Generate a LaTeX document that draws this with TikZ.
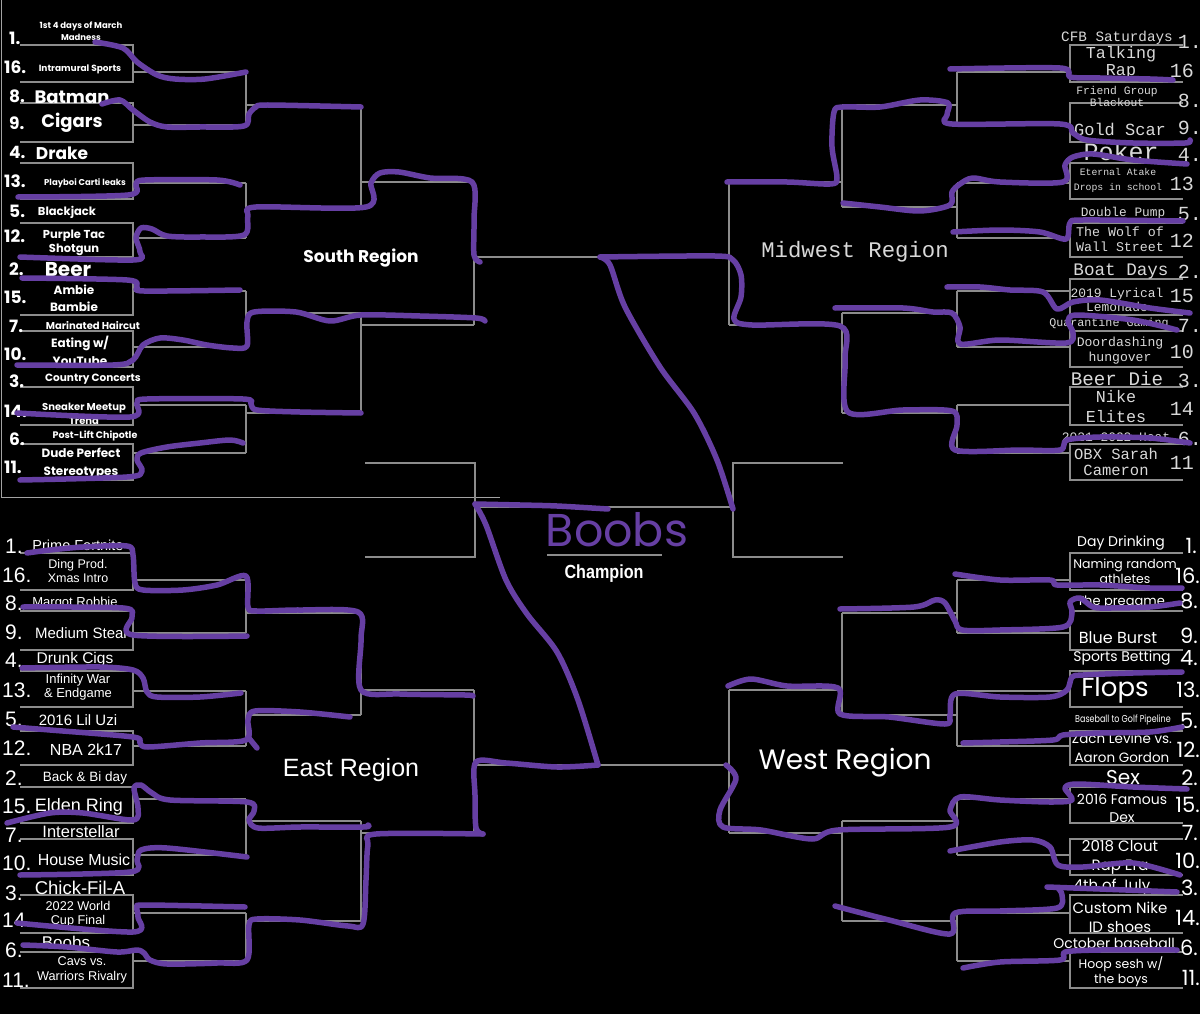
\documentclass[tikz,border=0pt]{standalone}
\usepackage{fontspec}
\usepackage{graphicx}
\newfontfamily\southfont{Poppins}
\newfontfamily\midfont{Liberation Mono}
\newfontfamily\eastfont{Liberation Sans}
\newfontfamily\westfont{Poppins}
\definecolor{penpurple}{HTML}{663FA3}
\definecolor{brkgray}{HTML}{8C8C8C}
\definecolor{midtext}{HTML}{D9D9D9}
\newcommand\fz[2]{\fontsize{#1}{#2}\selectfont}

\begin{document}
\begin{tikzpicture}[
  x=1pt, y=-1pt,
  brk/.style={draw=brkgray, line width=1.3pt},
  pen/.style={draw=penpurple, line width=5.5pt, line cap=round, line join=round},
  stxt/.style 2 args={font=\southfont\bfseries\fz{#1}{#2}, text=white, inner sep=0pt, align=center},
  mtxt/.style 2 args={font=\midfont\fz{#1}{#2}, text=midtext, inner sep=0pt, align=center},
  etxt/.style 2 args={font=\eastfont\fz{#1}{#2}, text=white, inner sep=0pt, align=center},
  wtxt/.style 2 args={font=\westfont\fz{#1}{#2}, text=white, inner sep=0pt, align=center},
  snum/.style={stxt={17}{17}, anchor=base west},
  enum/.style={etxt={21}{21}, anchor=base west},
  mnum/.style={mtxt={20}{20}, anchor=base east},
  wnum/.style={wtxt={21}{21}, anchor=base east}
]
\useasboundingbox (0,0) rectangle (1200,1014);
\fill[black] (0,0) rectangle (1200,1014);
\draw[brkgray!80, line width=1pt] (1,0) -- (1,497) -- (500,497);

% bracket lines, four regions (right side mirrored)
\foreach \sx/\ox/\dy in {1/0/0, -1/1203/0, 1/0/508, -1/1203/508} {
  \begin{scope}[shift={(\ox,\dy)}, xscale=\sx]
    \foreach \t/\b/\r in {45/82/72, 103/142/125, 163/199/183, 223/257/238,
                          279/315/291, 331/367/347, 387/425/405, 444/480/453}
      \draw[brk] (20,\t) -- (133,\t) -- (133,\b) -- (20,\b) (133,\r) -- (246,\r);
    \foreach \a/\b/\r in {72/125/105, 183/238/207, 291/347/313, 405/453/413}
      \draw[brk] (246,\a) -- (246,\b) (246,\r) -- (361,\r);
    \foreach \a/\b/\r in {105/207/182, 313/413/325}
      \draw[brk] (361,\a) -- (361,\b) (361,\r) -- (474,\r);
    \draw[brk] (474,182) -- (474,325) (474,257) -- (601.5,257);
  \end{scope}
}
% final four and title game
\draw[brk] (365,463) -- (475,463) -- (475,557) -- (365,557);
\draw[brk] (843,463) -- (733,463) -- (733,557) -- (843,557);
\draw[brk] (475,507) -- (733,507);
\draw[brk] (547,555) -- (662,555);

% South
\foreach \n/\x/\y [count=\i] in {1./9/45, 16./4/74, 8./9/103, 9./9/130, 4./9/159, 13./4/188,
    5./9/218, 12./4/242, 2./9/275, 15./4/303, 7./9/332, 10./4/360, 3./9/387, 14./4/417,
    6./9/445, 11./4/473}
  \node[snum] (snum\i) at (\x,\y) {\n};
\node[stxt={8.5}{12}] (s1) at (81,31) {1st 4 days of March\\Madness};
\node[stxt={9}{10}] (s16) at (80,69) {Intramural Sports};
\node[stxt={18}{18}] (s8) at (72,97) {Batman};
\node[stxt={18}{18}] (s9) at (72,123) {Cigars};
\node[stxt={17}{17}] (s4) at (62,153) {Drake};
\node[stxt={8.5}{10}] (s13) at (85,183) {Playboi Carti leaks};
\node[stxt={11.5}{12}] (s5) at (67,212) {Blackjack};
\node[stxt={11.5}{14}] (s12) at (74,243) {Purple Tac\\Shotgun};
\node[stxt={20}{20}] (s2) at (68,270) {Beer};
\node[stxt={12}{17}] (s15) at (74,298) {Ambie\\Bambie};
\node[stxt={10}{11}] (s7) at (93,326) {Marinated Haircut};
\node[stxt={12}{18}] (s10) at (80,351) {Eating w/\\YouTube};
\node[stxt={10.5}{11}] (s3) at (93,379) {Country Concerts};
\node[stxt={10}{14}] (s14) at (84,414) {Sneaker Meetup\\Trend};
\node[stxt={9.5}{10}] (s6) at (95,436) {Post-Lift Chipotle};
\node[stxt={12}{18}] (s11) at (81,463) {Dude Perfect\\Stereotypes};
\node[stxt={17}{17}] (south) at (361,258) {South Region};

% Midwest
\foreach \n/\x/\y [count=\i] in {1./1202/49, 16/1194/78, 8./1202/108, 9./1202/135, 4./1202/162,
    13/1194/190, 5./1202/220, 12/1194/247, 2./1202/278, 15/1194/302, 7./1202/332, 10/1194/358,
    3./1202/387, 14/1194/415, 6./1202/445, 11/1194/469}
  \node[mnum] (mnum\i) at (\x,\y) {\n};
\node[mtxt={14.3}{15}] (m1) at (1117,38) {CFB Saturdays};
\node[mtxt={16.7}{17}] (m16) at (1121,63) {Talking\\Rap};
\node[mtxt={11.3}{12}] (m8) at (1117,96) {Friend Group\\Blackout};
\node[mtxt={17}{17}] (m9) at (1120,129) {Gold Scar};
\node[mtxt={25}{25}] (m4) at (1121,152) {Poker};
\node[mtxt={9.8}{15}] (m13) at (1118,180) {Eternal Atake\\Drops in school};
\node[mtxt={12.8}{13}] (m5) at (1123,213) {Double Pump};
\node[mtxt={13.3}{15}] (m12) at (1120,239) {The Wolf of\\Wall Street};
\node[mtxt={17.6}{18}] (m2) at (1121,271) {Boat Days};
\node[mtxt={12.9}{14}] (m15) at (1117,300) {2019 Lyrical\\Lemonade};
\node[mtxt={11.7}{12}] (m7) at (1109,323) {Quarantine Gaming};
\node[mtxt={13.1}{15}] (m10) at (1120,351) {Doordashing\\hungover};
\node[mtxt={19.2}{19}] (m3) at (1117,379) {Beer Die};
\node[mtxt={16.7}{20}] (m14) at (1116,407) {Nike\\Elites};
\node[mtxt={12.9}{13}] (m6) at (1116,437) {2021-2022 Heat};
\node[mtxt={15.5}{16}] (m11) at (1116,462) {OBX Sarah\\Cameron};
\node[mtxt={22.3}{22}] (midwest) at (855,252) {Midwest Region};

% East
\foreach \n/\x/\y [count=\i] in {1./5/553, 16./2/582, 8./5/610, 9./5/639, 4./5/667, 13./2/697,
    5./5/726, 12./2/755, 2./5/785, 15./2/813, 7./5/842, 10./2/870, 3./5/900, 14./2/927,
    6./5/957, 11./2/987}
  \node[enum] (enum\i) at (\x,\y) {\n};
\node[etxt={14.5}{15}] (e1) at (78,545) {Prime Fortnite};
\node[etxt={12.5}{14.5}] (e16) at (78,571) {Ding Prod.\\Xmas Intro};
\node[etxt={13}{13}] (e8) at (75,603) {Margot Robbie};
\node[etxt={15}{15}] (e9) at (81,633) {Medium Steal};
\node[etxt={15.5}{16}] (e4) at (75,659) {Drunk Cigs};
\node[etxt={13}{14}] (e13) at (78,687) {Infinity War\\\& Endgame};
\node[etxt={15}{15}] (e5) at (78,720) {2016 Lil Uzi};
\node[etxt={16}{16}] (e12) at (86,750) {NBA 2k17};
\node[etxt={13.5}{14}] (e2) at (85,778) {Back \& Bi day};
\node[etxt={18}{18}] (e15) at (79,807) {Elden Ring};
\node[etxt={16.5}{17}] (e7) at (81,832) {Interstellar};
\node[etxt={16}{16}] (e10) at (84,860) {House Music};
\node[etxt={18.5}{19}] (e3) at (80,888) {Chick-Fil-A};
\node[etxt={12.7}{14}] (e14) at (78,914) {2022 World\\Cup Final};
\node[etxt={17}{17}] (e6) at (66,942) {Boobs};
\node[etxt={12.7}{15}] (e11) at (82,970) {Cavs vs.\\Warriors Rivalry};
\node[etxt={25}{25}] (east) at (351,770) {East Region};

% West
\foreach \n/\x/\y [count=\i] in {1./1197/553, 16./1200/583, 8./1198/608, 9./1198/643, 4./1198/665,
    13./1200/697, 5./1198/728, 12./1200/757, 2./1198/785, 15./1200/812, 7./1198/840, 10./1200/868,
    3./1198/895, 14./1200/925, 6./1198/955, 11./1200/985}
  \node[wnum] (wnum\i) at (\x,\y) {\n};
\node[wtxt={14}{14}] (w1) at (1121,543) {Day Drinking};
\node[wtxt={12.5}{15}] (w16) at (1125,571) {Naming random\\athletes};
\node[wtxt={13}{13}] (w8) at (1121,602) {The pregame};
\node[wtxt={16}{16}] (w9) at (1118,638) {Blue Burst};
\node[wtxt={14}{14}] (w4) at (1122,658) {Sports Betting};
\node[wtxt={26}{26}] (w13) at (1115,690) {Flops};
\node[wtxt={10}{10}] (w5) at (1123,720) {\scalebox{0.8}[1]{Baseball to Golf Pipeline}};
\node[wtxt={13.5}{19}] (w12) at (1122,748) {Zach Levine vs.\\Aaron Gordon};
\node[wtxt={20}{20}] (w2) at (1123,778) {Sex};
\node[wtxt={14}{18}] (w15) at (1122,808) {2016 Famous\\Dex};
\node[wtxt={15}{19}] (w10) at (1120,857) {2018 Clout\\Rap Era};
\node[wtxt={15}{15}] (w3) at (1112,887) {4th of July};
\node[wtxt={15}{19}] (w14) at (1120,917) {Custom Nike\\ID shoes};
\node[wtxt={14}{14}] (w6) at (1114,943) {October baseball};
\node[wtxt={12.5}{15}] (w11) at (1121,972) {Hoop sesh w/\\the boys};
\node[wtxt={28}{28}] (west) at (845,763) {West Region};

% champion
\node[etxt={19}{19}, font=\eastfont\bfseries\fz{19}{19}] (champ) at (604,574) {\scalebox{0.85}[1]{Champion}};

% purple picks, South
\draw[pen] plot[smooth, tension=.5] coordinates {(95,42) (123,48) (137,62) (157,75) (175,79) (205,79) (246,72)};
\draw[pen] plot[smooth, tension=.5] coordinates {(102,104) (120,100) (133,110) (150,122) (167,127) (200,127) (244,126) (249,114) (256,107) (268,105) (361,107)};
\draw[pen] plot[smooth, tension=.5] coordinates {(18,197) (128,195) (136,184) (145,180) (217,180) (240,185)};
\draw[pen] plot[smooth, tension=.5] coordinates {(20,257) (133,260) (140,252) (136,238) (141,228) (152,229) (167,236) (200,237) (244,235) (248,216) (256,207) (366,207) (371,183) (380,173) (399,172) (430,178) (472,182) (474,220) (474,255) (480,262)};
\draw[pen] plot[smooth, tension=.5] coordinates {(22,278) (127,280) (137,287) (144,291) (240,290)};
\draw[pen] plot[smooth, tension=.5] coordinates {(17,365) (113,365) (133,360) (143,345) (160,338) (183,340) (207,345) (233,348) (247,346) (247,322) (254,312) (296,312) (330,321) (361,315) (420,316) (476,318) (485,321)};
\draw[pen] plot[smooth, tension=.5] coordinates {(17,413) (130,417) (137,403) (147,399) (243,399) (251,404) (257,410) (300,412) (361,413)};
\draw[pen] plot[smooth, tension=.5] coordinates {(20,480) (127,477) (142,471) (137,460) (141,453) (167,447) (200,443) (230,440) (243,443)};

% purple picks, Midwest
\draw[pen] plot[smooth, tension=.5] coordinates {(950,69) (1060,68) (1070,77) (1100,78) (1150,79) (1173,80)};
\draw[pen] plot[smooth, tension=.5] coordinates {(1190,140) (1185,143) (1133,143) (1087,140) (1073,133) (1060,124) (952,124) (947,115) (948,103) (920,100) (880,107) (843,107) (834,112) (832,147) (837,178) (830,184) (787,182) (727,182)};
\draw[pen] plot[smooth, tension=.5] coordinates {(1187,164) (1133,160) (1093,154) (1073,157) (1065,165) (1063,182) (1000,182) (973,178) (960,184) (952,192) (950,205) (920,211) (880,207) (843,203)};
\draw[pen] plot[smooth, tension=.5] coordinates {(953,232) (1000,230) (1040,232) (1066,239) (1070,223) (1083,220) (1183,221)};
\draw[pen] plot[smooth, tension=.5] coordinates {(947,287) (980,287) (1010,290) (1043,292) (1057,309) (1073,302) (1100,300) (1150,308) (1190,313)};
\draw[pen] plot[smooth, tension=.5] coordinates {(835,308) (903,308) (933,312) (952,313) (960,327) (960,344) (1000,340) (1066,343) (1073,333) (1068,321) (1077,315) (1133,320) (1177,330)};
\draw[pen] plot[smooth, tension=.5] coordinates {(1190,443) (1150,438) (1100,437) (1067,440) (1060,450) (1020,450) (955,450) (957,425) (952,411) (903,410) (848,412) (845,360) (840,326) (752,325) (734,319) (741,297) (741,275) (733,260) (715,256) (600,257)};

% purple picks, East
\draw[pen] plot[smooth, tension=.5] coordinates {(27,553) (50,550) (83,547) (127,546) (133,555) (135,583) (143,590) (183,590) (217,585) (246,576) (248,607) (257,611) (300,610) (358,612) (361,640) (361,690) (400,694) (465,695) (473,696)};
\draw[pen] plot[smooth, tension=.5] coordinates {(23,607) (123,608) (132,617) (133,635) (247,636)};
\draw[pen] plot[smooth, tension=.5] coordinates {(22,668) (100,667) (133,670) (143,678) (147,692) (157,697) (200,697) (241,693)};
\draw[pen] plot[smooth, tension=.5] coordinates {(13,727) (50,730) (133,737) (140,743) (148,747) (200,743) (246,740) (248,720) (255,711) (300,712) (350,717)};
\draw[pen] (248,737) -- (257,748);
\draw[pen] plot[smooth, tension=.5] coordinates {(7,823) (50,813) (83,813) (133,820) (138,808) (134,788) (141,785) (152,793) (170,800) (247,802) (254,811) (249,820) (258,828) (300,827) (363,827) (368,825)};
\draw[pen] plot[smooth, tension=.5] coordinates {(20,875) (130,872) (137,860) (141,850) (167,848) (247,857)};
\draw[pen] plot[smooth, tension=.5] coordinates {(17,923) (133,932) (138,917) (137,907) (147,905) (245,907)};
\draw[pen] plot[smooth, tension=.5] coordinates {(23,945) (67,947) (117,952) (137,950) (144,953) (150,960) (167,964) (217,963) (247,960) (249,925) (257,919) (300,920) (348,926) (363,924) (366,880) (368,845) (376,834) (483,834)};

% purple picks, West
\draw[pen] plot[smooth, tension=.5] coordinates {(955,574) (1000,580) (1050,580) (1057,585) (1100,585) (1150,588) (1182,588)};
\draw[pen] plot[smooth, tension=.5] coordinates {(840,609) (914,607) (935,600) (945,603) (955,621) (962,630) (1000,630) (1063,627) (1072,613) (1070,602) (1080,598) (1093,607) (1110,608) (1150,607) (1180,603)};
\draw[pen] plot[smooth, tension=.5] coordinates {(728,686) (751,679) (787,686) (838,688) (840,714) (889,717) (945,724) (950,715) (955,694) (1000,697) (1050,697) (1067,690) (1072,677) (1083,675) (1133,673) (1182,672)};
\draw[pen] plot[smooth, tension=.5] coordinates {(963,743) (1000,742) (1053,740) (1063,735) (1100,733) (1150,732) (1182,727)};
\draw[pen] plot[smooth, tension=.5] coordinates {(726,765) (736,779) (720,810) (723,827) (761,830) (812,839) (838,830) (950,827) (950,810) (960,797) (1000,800) (1050,802) (1072,800) (1065,788) (1077,784) (1133,787) (1187,789)};
\draw[pen] plot[smooth, tension=.5] coordinates {(950,851) (1000,842) (1033,840) (1050,847) (1058,865) (1083,867) (1133,863) (1180,875)};
\draw[pen] plot[smooth, tension=.5] coordinates {(835,906) (889,920) (950,934) (955,913) (1000,911) (1057,908) (1062,895) (1058,888)};
\draw[pen] plot[smooth, tension=.5] coordinates {(1047,887) (1100,889) (1177,892)};
\draw[pen] plot[smooth, tension=.5] coordinates {(963,968) (1000,962) (1060,960) (1065,952) (1100,950) (1177,950)};

% purple picks, final four
\draw[pen] plot[smooth, tension=.5] coordinates {(600,257) (610,265) (625,307) (660,367) (694,413) (717,460) (733,509)};
\draw[pen] plot[smooth, tension=.5] coordinates {(483,834) (476,828) (475,795) (476,762) (506,763) (557,767) (598,765)};
\draw[pen] plot[smooth, tension=.5] coordinates {(598,765) (578,700) (557,652) (527,614) (506,580) (486,525) (475,504)};
\draw[pen] plot[smooth, tension=.5] coordinates {(475,504) (520,505) (557,506) (608,509)};
\node[wtxt={46}{46}, text=penpurple] (winner) at (617,530) {Boobs};
\end{tikzpicture}
\end{document}
